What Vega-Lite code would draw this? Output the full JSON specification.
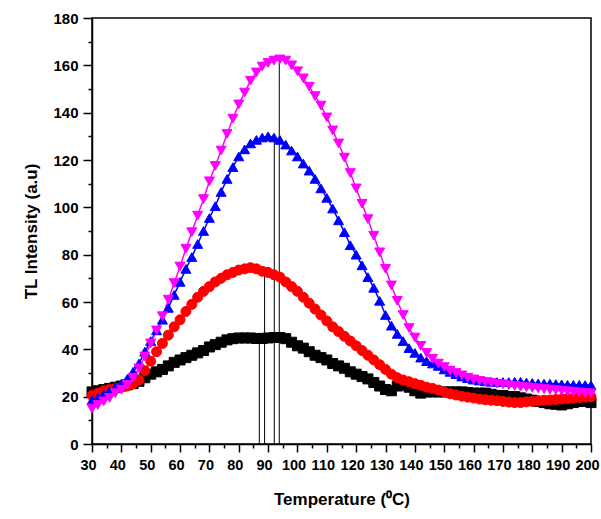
{
"$schema": "https://vega.github.io/schema/vega-lite/v6.json",
"width": 499, "height": 426,
"autosize": "none",
"padding": {"left": 92, "top": 18, "right": 10, "bottom": 75},
"background": "white",
"config": {"view": {"stroke": "black", "strokeWidth": 1.5}, "font": "Liberation Sans", "axis": {"labelOverlap": false}},
"datasets": {
"curves": [
{"dose":26,"temp":30,"tl":22},{"dose":26,"temp":32,"tl":22.5},{"dose":26,"temp":34,"tl":23},{"dose":26,"temp":36,"tl":23.5},{"dose":26,"temp":38,"tl":24},{"dose":26,"temp":40,"tl":24.5},{"dose":26,"temp":42,"tl":25},{"dose":26,"temp":44,"tl":25.5},{"dose":26,"temp":46,"tl":26.5},{"dose":26,"temp":48,"tl":28},{"dose":26,"temp":50,"tl":29.5},{"dose":26,"temp":52,"tl":30.5},{"dose":26,"temp":54,"tl":31.5},{"dose":26,"temp":56,"tl":33},{"dose":26,"temp":58,"tl":34.5},{"dose":26,"temp":60,"tl":35.5},{"dose":26,"temp":62,"tl":36.5},{"dose":26,"temp":64,"tl":37.5},{"dose":26,"temp":66,"tl":38.5},{"dose":26,"temp":68,"tl":39.5},{"dose":26,"temp":70,"tl":41},{"dose":26,"temp":72,"tl":42},{"dose":26,"temp":74,"tl":43},{"dose":26,"temp":76,"tl":44},{"dose":26,"temp":78,"tl":44.5},{"dose":26,"temp":80,"tl":44.8},{"dose":26,"temp":82,"tl":44.8},{"dose":26,"temp":84,"tl":44.8},{"dose":26,"temp":86,"tl":44.6},{"dose":26,"temp":88,"tl":44.6},{"dose":26,"temp":90,"tl":44.8},{"dose":26,"temp":92,"tl":45},{"dose":26,"temp":94,"tl":45},{"dose":26,"temp":96,"tl":44.5},{"dose":26,"temp":98,"tl":43},{"dose":26,"temp":100,"tl":41.5},{"dose":26,"temp":102,"tl":40.5},{"dose":26,"temp":104,"tl":39},{"dose":26,"temp":106,"tl":37.5},{"dose":26,"temp":108,"tl":36.5},{"dose":26,"temp":110,"tl":35.5},{"dose":26,"temp":112,"tl":34},{"dose":26,"temp":114,"tl":33},{"dose":26,"temp":116,"tl":32},{"dose":26,"temp":118,"tl":30.5},{"dose":26,"temp":120,"tl":29.5},{"dose":26,"temp":122,"tl":28.5},{"dose":26,"temp":124,"tl":27.5},{"dose":26,"temp":126,"tl":26},{"dose":26,"temp":128,"tl":24.5},{"dose":26,"temp":130,"tl":23},{"dose":26,"temp":132,"tl":22.5},{"dose":26,"temp":134,"tl":24.5},{"dose":26,"temp":136,"tl":25},{"dose":26,"temp":138,"tl":24},{"dose":26,"temp":140,"tl":22.5},{"dose":26,"temp":142,"tl":21.5},{"dose":26,"temp":144,"tl":22},{"dose":26,"temp":146,"tl":22},{"dose":26,"temp":148,"tl":22},{"dose":26,"temp":150,"tl":22},{"dose":26,"temp":152,"tl":22},{"dose":26,"temp":154,"tl":22},{"dose":26,"temp":156,"tl":22},{"dose":26,"temp":158,"tl":21.8},{"dose":26,"temp":160,"tl":21.5},{"dose":26,"temp":162,"tl":21.5},{"dose":26,"temp":164,"tl":21.5},{"dose":26,"temp":166,"tl":21},{"dose":26,"temp":168,"tl":20.5},{"dose":26,"temp":170,"tl":20.5},{"dose":26,"temp":172,"tl":20},{"dose":26,"temp":174,"tl":20},{"dose":26,"temp":176,"tl":19.5},{"dose":26,"temp":178,"tl":19},{"dose":26,"temp":180,"tl":18.5},{"dose":26,"temp":182,"tl":18},{"dose":26,"temp":184,"tl":17.5},{"dose":26,"temp":186,"tl":17},{"dose":26,"temp":188,"tl":16.8},{"dose":26,"temp":190,"tl":16.5},{"dose":26,"temp":192,"tl":17},{"dose":26,"temp":194,"tl":17.5},{"dose":26,"temp":196,"tl":18},{"dose":26,"temp":198,"tl":18},{"dose":26,"temp":200,"tl":17.5},
{"dose":51,"temp":30,"tl":20.5},{"dose":51,"temp":32,"tl":21.5},{"dose":51,"temp":34,"tl":22.5},{"dose":51,"temp":36,"tl":23},{"dose":51,"temp":38,"tl":23.5},{"dose":51,"temp":40,"tl":24},{"dose":51,"temp":42,"tl":24.5},{"dose":51,"temp":44,"tl":25.5},{"dose":51,"temp":46,"tl":27},{"dose":51,"temp":48,"tl":31},{"dose":51,"temp":50,"tl":35},{"dose":51,"temp":52,"tl":39},{"dose":51,"temp":54,"tl":42.5},{"dose":51,"temp":56,"tl":46},{"dose":51,"temp":58,"tl":49.5},{"dose":51,"temp":60,"tl":52.5},{"dose":51,"temp":62,"tl":56},{"dose":51,"temp":64,"tl":59},{"dose":51,"temp":66,"tl":62},{"dose":51,"temp":68,"tl":64.5},{"dose":51,"temp":70,"tl":66.5},{"dose":51,"temp":72,"tl":68.5},{"dose":51,"temp":74,"tl":70},{"dose":51,"temp":76,"tl":71.5},{"dose":51,"temp":78,"tl":72.5},{"dose":51,"temp":80,"tl":73.5},{"dose":51,"temp":82,"tl":74},{"dose":51,"temp":84,"tl":74.5},{"dose":51,"temp":86,"tl":74},{"dose":51,"temp":88,"tl":73},{"dose":51,"temp":90,"tl":72.5},{"dose":51,"temp":92,"tl":71.5},{"dose":51,"temp":94,"tl":70.5},{"dose":51,"temp":96,"tl":68.5},{"dose":51,"temp":98,"tl":66.5},{"dose":51,"temp":100,"tl":64.5},{"dose":51,"temp":102,"tl":62},{"dose":51,"temp":104,"tl":59.5},{"dose":51,"temp":106,"tl":57},{"dose":51,"temp":108,"tl":54.5},{"dose":51,"temp":110,"tl":52},{"dose":51,"temp":112,"tl":49.5},{"dose":51,"temp":114,"tl":47.5},{"dose":51,"temp":116,"tl":45.5},{"dose":51,"temp":118,"tl":43.5},{"dose":51,"temp":120,"tl":41.5},{"dose":51,"temp":122,"tl":39.5},{"dose":51,"temp":124,"tl":37.5},{"dose":51,"temp":126,"tl":35.5},{"dose":51,"temp":128,"tl":33.5},{"dose":51,"temp":130,"tl":31.5},{"dose":51,"temp":132,"tl":29.5},{"dose":51,"temp":134,"tl":28},{"dose":51,"temp":136,"tl":27},{"dose":51,"temp":138,"tl":26.3},{"dose":51,"temp":140,"tl":25.5},{"dose":51,"temp":142,"tl":24.8},{"dose":51,"temp":144,"tl":24},{"dose":51,"temp":146,"tl":23.5},{"dose":51,"temp":148,"tl":22.8},{"dose":51,"temp":150,"tl":22},{"dose":51,"temp":152,"tl":21.2},{"dose":51,"temp":154,"tl":20.7},{"dose":51,"temp":156,"tl":20.2},{"dose":51,"temp":158,"tl":19.8},{"dose":51,"temp":160,"tl":19.4},{"dose":51,"temp":162,"tl":19},{"dose":51,"temp":164,"tl":18.7},{"dose":51,"temp":166,"tl":18.5},{"dose":51,"temp":168,"tl":18.3},{"dose":51,"temp":170,"tl":18},{"dose":51,"temp":172,"tl":17.7},{"dose":51,"temp":174,"tl":17.5},{"dose":51,"temp":176,"tl":17.5},{"dose":51,"temp":178,"tl":17.8},{"dose":51,"temp":180,"tl":18},{"dose":51,"temp":182,"tl":18.3},{"dose":51,"temp":184,"tl":18.5},{"dose":51,"temp":186,"tl":18.6},{"dose":51,"temp":188,"tl":18.8},{"dose":51,"temp":190,"tl":19},{"dose":51,"temp":192,"tl":19.2},{"dose":51,"temp":194,"tl":19.4},{"dose":51,"temp":196,"tl":19.6},{"dose":51,"temp":198,"tl":19.8},{"dose":51,"temp":200,"tl":20},
{"dose":103,"temp":30,"tl":18.5},{"dose":103,"temp":32,"tl":19.5},{"dose":103,"temp":34,"tl":21},{"dose":103,"temp":36,"tl":22.5},{"dose":103,"temp":38,"tl":24},{"dose":103,"temp":40,"tl":25.5},{"dose":103,"temp":42,"tl":27.5},{"dose":103,"temp":44,"tl":30.5},{"dose":103,"temp":46,"tl":34},{"dose":103,"temp":48,"tl":39},{"dose":103,"temp":50,"tl":43.5},{"dose":103,"temp":52,"tl":48},{"dose":103,"temp":54,"tl":52.5},{"dose":103,"temp":56,"tl":57.5},{"dose":103,"temp":58,"tl":63},{"dose":103,"temp":60,"tl":68.5},{"dose":103,"temp":62,"tl":74},{"dose":103,"temp":64,"tl":79},{"dose":103,"temp":66,"tl":84.5},{"dose":103,"temp":68,"tl":90},{"dose":103,"temp":70,"tl":95.5},{"dose":103,"temp":72,"tl":100.5},{"dose":103,"temp":74,"tl":106.5},{"dose":103,"temp":76,"tl":112},{"dose":103,"temp":78,"tl":117},{"dose":103,"temp":80,"tl":121.5},{"dose":103,"temp":82,"tl":124.5},{"dose":103,"temp":84,"tl":127},{"dose":103,"temp":86,"tl":128.5},{"dose":103,"temp":88,"tl":129.5},{"dose":103,"temp":90,"tl":130},{"dose":103,"temp":92,"tl":129.5},{"dose":103,"temp":94,"tl":128.5},{"dose":103,"temp":96,"tl":126.5},{"dose":103,"temp":98,"tl":124},{"dose":103,"temp":100,"tl":121.5},{"dose":103,"temp":102,"tl":118.5},{"dose":103,"temp":104,"tl":115.5},{"dose":103,"temp":106,"tl":112},{"dose":103,"temp":108,"tl":108},{"dose":103,"temp":110,"tl":104},{"dose":103,"temp":112,"tl":99.5},{"dose":103,"temp":114,"tl":94.5},{"dose":103,"temp":116,"tl":89.5},{"dose":103,"temp":118,"tl":84},{"dose":103,"temp":120,"tl":80},{"dose":103,"temp":122,"tl":75.5},{"dose":103,"temp":124,"tl":70.5},{"dose":103,"temp":126,"tl":66},{"dose":103,"temp":128,"tl":60.5},{"dose":103,"temp":130,"tl":54.5},{"dose":103,"temp":132,"tl":50},{"dose":103,"temp":134,"tl":46.5},{"dose":103,"temp":136,"tl":43.5},{"dose":103,"temp":138,"tl":40.5},{"dose":103,"temp":140,"tl":38.5},{"dose":103,"temp":142,"tl":36.5},{"dose":103,"temp":144,"tl":35},{"dose":103,"temp":146,"tl":34},{"dose":103,"temp":148,"tl":33},{"dose":103,"temp":150,"tl":31.5},{"dose":103,"temp":152,"tl":30.5},{"dose":103,"temp":154,"tl":29.5},{"dose":103,"temp":156,"tl":28.5},{"dose":103,"temp":158,"tl":27.8},{"dose":103,"temp":160,"tl":27.2},{"dose":103,"temp":162,"tl":26.8},{"dose":103,"temp":164,"tl":26.5},{"dose":103,"temp":166,"tl":26.3},{"dose":103,"temp":168,"tl":26.2},{"dose":103,"temp":170,"tl":26.2},{"dose":103,"temp":172,"tl":26.2},{"dose":103,"temp":174,"tl":26.3},{"dose":103,"temp":176,"tl":26.3},{"dose":103,"temp":178,"tl":26},{"dose":103,"temp":180,"tl":25.8},{"dose":103,"temp":182,"tl":25.6},{"dose":103,"temp":184,"tl":25.5},{"dose":103,"temp":186,"tl":25.5},{"dose":103,"temp":188,"tl":25.3},{"dose":103,"temp":190,"tl":25.2},{"dose":103,"temp":192,"tl":25},{"dose":103,"temp":194,"tl":25},{"dose":103,"temp":196,"tl":25},{"dose":103,"temp":198,"tl":24.9},{"dose":103,"temp":200,"tl":24.8},
{"dose":185,"temp":30,"tl":15},{"dose":185,"temp":32,"tl":16.5},{"dose":185,"temp":34,"tl":18},{"dose":185,"temp":36,"tl":19.5},{"dose":185,"temp":38,"tl":21.5},{"dose":185,"temp":40,"tl":23},{"dose":185,"temp":42,"tl":25},{"dose":185,"temp":44,"tl":28},{"dose":185,"temp":46,"tl":32},{"dose":185,"temp":48,"tl":37},{"dose":185,"temp":50,"tl":42.5},{"dose":185,"temp":52,"tl":48},{"dose":185,"temp":54,"tl":54},{"dose":185,"temp":56,"tl":61},{"dose":185,"temp":58,"tl":68},{"dose":185,"temp":60,"tl":75},{"dose":185,"temp":62,"tl":82.5},{"dose":185,"temp":64,"tl":89.5},{"dose":185,"temp":66,"tl":96.5},{"dose":185,"temp":68,"tl":103.5},{"dose":185,"temp":70,"tl":111},{"dose":185,"temp":72,"tl":117.5},{"dose":185,"temp":74,"tl":124},{"dose":185,"temp":76,"tl":131},{"dose":185,"temp":78,"tl":137.5},{"dose":185,"temp":80,"tl":143.5},{"dose":185,"temp":82,"tl":148.5},{"dose":185,"temp":84,"tl":153.5},{"dose":185,"temp":86,"tl":157},{"dose":185,"temp":88,"tl":159.5},{"dose":185,"temp":90,"tl":161},{"dose":185,"temp":92,"tl":162},{"dose":185,"temp":94,"tl":162.5},{"dose":185,"temp":96,"tl":162},{"dose":185,"temp":98,"tl":160},{"dose":185,"temp":100,"tl":157.5},{"dose":185,"temp":102,"tl":154.5},{"dose":185,"temp":104,"tl":151},{"dose":185,"temp":106,"tl":147},{"dose":185,"temp":108,"tl":143},{"dose":185,"temp":110,"tl":138},{"dose":185,"temp":112,"tl":132.5},{"dose":185,"temp":114,"tl":127},{"dose":185,"temp":116,"tl":121},{"dose":185,"temp":118,"tl":114.5},{"dose":185,"temp":120,"tl":108},{"dose":185,"temp":122,"tl":101.5},{"dose":185,"temp":124,"tl":95},{"dose":185,"temp":126,"tl":88},{"dose":185,"temp":128,"tl":81},{"dose":185,"temp":130,"tl":74},{"dose":185,"temp":132,"tl":67},{"dose":185,"temp":134,"tl":60.5},{"dose":185,"temp":136,"tl":54.5},{"dose":185,"temp":138,"tl":49},{"dose":185,"temp":140,"tl":45},{"dose":185,"temp":142,"tl":41.5},{"dose":185,"temp":144,"tl":38.5},{"dose":185,"temp":146,"tl":36},{"dose":185,"temp":148,"tl":34},{"dose":185,"temp":150,"tl":32.5},{"dose":185,"temp":152,"tl":31},{"dose":185,"temp":154,"tl":30},{"dose":185,"temp":156,"tl":29},{"dose":185,"temp":158,"tl":28},{"dose":185,"temp":160,"tl":27.3},{"dose":185,"temp":162,"tl":26.7},{"dose":185,"temp":164,"tl":26.2},{"dose":185,"temp":166,"tl":25.8},{"dose":185,"temp":168,"tl":25.5},{"dose":185,"temp":170,"tl":25.2},{"dose":185,"temp":172,"tl":24.8},{"dose":185,"temp":174,"tl":24.5},{"dose":185,"temp":176,"tl":24.2},{"dose":185,"temp":178,"tl":24},{"dose":185,"temp":180,"tl":23.7},{"dose":185,"temp":182,"tl":23.5},{"dose":185,"temp":184,"tl":23.2},{"dose":185,"temp":186,"tl":23},{"dose":185,"temp":188,"tl":22.8},{"dose":185,"temp":190,"tl":22.5},{"dose":185,"temp":192,"tl":22.3},{"dose":185,"temp":194,"tl":22},{"dose":185,"temp":196,"tl":21.8},{"dose":185,"temp":198,"tl":21.6},{"dose":185,"temp":200,"tl":21.4}
],
"peaks": [
{"dose":26,"temp":87,"tl":44.6},{"dose":51,"temp":88.8,"tl":73},{"dose":103,"temp":92.1,"tl":129},{"dose":185,"temp":93.8,"tl":162.3}
]
},
"encoding": {
"x": {"field": "temp", "type": "quantitative", "scale": {"domain": [30, 200], "nice": false, "zero": false},
"axis": {"title": "Temperature (⁰C)", "values": [30,35,40,45,50,55,60,65,70,75,80,85,90,95,100,105,110,115,120,125,130,135,140,145,150,155,160,165,170,175,180,185,190,195,200],
"labelExpr": "datum.value % 10 === 0 ? datum.label : ''",
"tickSize": {"condition": {"test": "datum.value % 10 === 0", "value": 8}, "value": 4},
"grid": false, "domainColor": "black", "domainWidth": 1.5, "tickColor": "black", "tickWidth": 1.5,
"labelFontSize": 14.5, "labelFontWeight": "bold", "labelColor": "black", "labelPadding": 6, "labelFlush": false, "labelOffset": -4, "labelOverlap": false, "labelBound": false,
"titleFontSize": 17, "titleFontWeight": "bold", "titleColor": "black", "titlePadding": 20}},
"y": {"field": "tl", "type": "quantitative", "scale": {"domain": [0, 180], "nice": false},
"axis": {"title": "TL Intensity (a.u)", "values": [0,10,20,30,40,50,60,70,80,90,100,110,120,130,140,150,160,170,180],
"labelExpr": "datum.value % 20 === 0 ? datum.label : ''",
"tickSize": {"condition": {"test": "datum.value % 20 === 0", "value": 9}, "value": 4},
"grid": false, "domainColor": "black", "domainWidth": 1.5, "tickColor": "black", "tickWidth": 1.5,
"labelFontSize": 15, "labelFontWeight": "bold", "labelColor": "black", "labelPadding": 5, "labelOverlap": false, "labelFlush": false,
"titleFontSize": 17, "titleFontWeight": "bold", "titleColor": "black", "titlePadding": 12}}
},
"layer": [
{
"data": {"name": "curves"},
"mark": {"type": "line", "strokeWidth": 1.5},
"encoding": {
"stroke": {"field": "dose", "type": "nominal", "scale": {"domain": [26, 51, 103, 185], "range": ["#000000", "#ff0000", "#0000ff", "#ff00ff"]}, "legend": null},
"detail": {"field": "dose", "type": "nominal"}
}
},
{
"data": {"name": "peaks"},
"mark": {"type": "rule", "color": "black", "strokeWidth": 1},
"encoding": {
"y2": {"datum": 0}
}
},
{
"data": {"name": "curves"},
"mark": {"type": "point", "filled": true, "size": 100, "opacity": 1, "strokeWidth": 1},
"encoding": {
"fill": {"field": "dose", "type": "nominal", "title": "Dose Gy", "scale": {"domain": [26, 51, 103, 185], "range": ["#000000", "#ff0000", "#0000ff", "#ff00ff"]}},
"stroke": {"field": "dose", "type": "nominal", "title": "Dose Gy"},
"shape": {"field": "dose", "type": "nominal", "title": "Dose Gy", "scale": {"domain": [26, 51, 103, 185], "range": ["square", "circle", "triangle-up", "triangle-down"]},
"legend": {"orient": "none", "legendX": 408.5, "legendY": 17, "padding": 0, "titleFont": "Liberation Sans", "titleFontSize": 16, "titleFontWeight": "bold", "titleColor": "black", "titlePadding": 10,
"labelFont": "Liberation Sans", "labelFontSize": 16, "labelFontWeight": "bold", "labelColor": "black", "labelOffset": 16, "symbolSize": 100, "symbolOpacity": 1, "rowPadding": 9}}
}
}
]
}
